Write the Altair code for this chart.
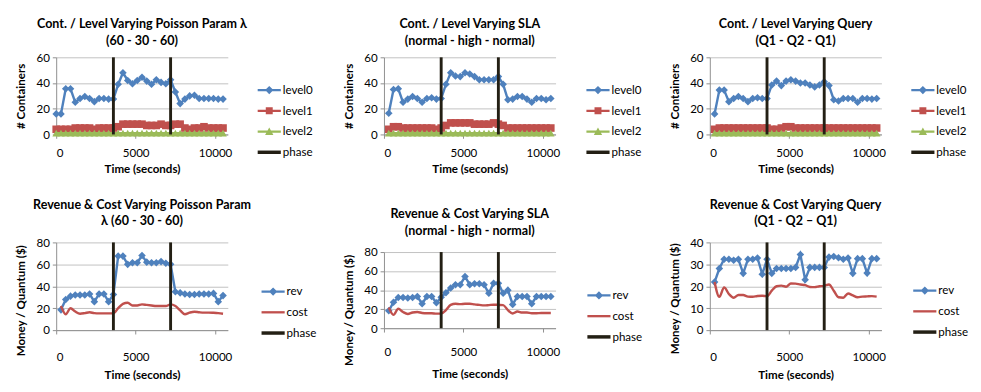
import altair as alt
import pandas as pd

FONT = "Lato"
BLUE = "#4F81BD"
RED = "#C0504D"
GREEN = "#9BBB59"
PHASE_C = "#231F14"
GRID = "#BFBFBF"
AXIS_C = "#8C8C8C"

X_TICKS = [0, 5000, 10000]
Y_TICKS_60 = [0, 20, 40, 60]
Y_TICKS_80 = [0, 20, 40, 60, 80]
Y_TICKS_40 = [0, 10, 20, 30, 40]
PHASES = [3600, 7200]

T36 = [0, 300, 600, 900, 1200, 1500, 1800, 2100, 2400, 2700, 3000, 3300, 3600,
       3900, 4200, 4500, 4800, 5100, 5400, 5700, 6000, 6300, 6600, 6900, 7200,
       7500, 7800, 8100, 8400, 8700, 9000, 9300, 9600, 9900, 10200, 10500]
T35 = [300, 600, 900, 1200, 1500, 1800, 2100, 2400, 2700, 3000, 3300, 3600,
       3900, 4200, 4500, 4800, 5100, 5400, 5700, 6000, 6300, 6600, 6900, 7200,
       7500, 7800, 8100, 8400, 8700, 9000, 9300, 9600, 9900, 10200, 10500]

# Top-left: varying Poisson parameter
POI_L0 = [16, 16, 35.5, 35.5, 25, 28, 29.5, 28, 25.5, 28, 28, 27.5, 27.5, 39, 48, 42,
          39.5, 42, 44.5, 41.5, 39, 42.5, 40.5, 39.5, 42.5, 33, 24, 27.5, 30, 30.5,
          28, 28, 28, 28, 27.5, 27.5]
POI_L1 = [4, 4, 4, 4, 5, 5, 5, 5, 4, 5, 5, 5, 5, 6, 8, 8, 8, 8, 8, 7, 7, 7, 8, 7, 7, 8,
          8, 5, 4, 5, 5, 6, 5, 5, 5, 5]
POI_L2 = [1, 1, 1, 1, 1, 1, 1, 1, 1, 1, 1, 1, 1, 1, 1, 1, 1, 1, 1, 1, 1, 1, 1, 1, 1, 1,
          1, 1, 1, 1, 1, 1, 1, 1, 1, 1]

# Top-middle: varying SLA
SLA_L0 = [16.5, 35, 35.5, 25, 27.5, 29.5, 28, 25, 28, 28.5, 27.5, 28, 39, 48, 45.5, 45,
          48, 47, 45, 42.5, 42.5, 42.5, 42.5, 45, 39, 27, 27.5, 29.5, 29.5, 27.5, 25,
          28, 28, 27, 28]
SLA_L1 = [4, 6, 6, 5, 5, 5, 5, 5, 5, 5, 4, 5, 7, 9, 9, 9, 9, 9, 8, 8, 8, 8, 9, 8, 7, 5,
          5, 5, 5, 5, 5, 5, 5, 5, 5]
SLA_L2 = [1, 1, 1, 1, 1, 1, 1, 1, 1, 1, 1, 1, 1, 1, 1, 1, 1, 1, 1, 1, 1, 1, 1, 1, 1, 1,
          1, 1, 1, 1, 1, 1, 1, 1, 1]

# Top-right: varying query
QRY_L0 = [16, 34.5, 34.5, 25.5, 28, 29.5, 28, 25.5, 28, 28.5, 28, 28, 38.5, 41.5, 38,
          41.5, 42.5, 41.5, 40, 40, 38.5, 37, 38.5, 41, 38, 27, 26, 28, 28, 28, 25, 28,
          28, 27.5, 28]
QRY_L1 = [4, 5, 5, 5, 5, 5, 5, 5, 5, 5, 5, 5, 4, 4, 5, 6, 6, 5, 5, 5, 5, 5, 5, 5, 5, 5,
          5, 5, 5, 5, 5, 5, 5, 5, 5]
QRY_L2 = [1, 1, 1, 1, 1, 1, 1, 1, 1, 1, 1, 1, 1, 1, 1, 1, 1, 1, 1, 1, 1, 1, 1, 1, 1, 1,
          1, 1, 1, 1, 1, 1, 1, 1, 1]

# Bottom-left: revenue & cost, Poisson
POI_REV = [18.5, 28, 31, 32, 32, 32, 33, 26, 33, 33, 26, 32.5, 67.5, 67.5, 60, 61.5,
           61.5, 68, 62, 61.5, 61.5, 62.5, 61, 60, 35, 34, 33, 32.5, 32.5, 33, 33, 33,
           33.5, 26, 31.5]
POI_COST = [22, 14.5, 20, 17, 15, 15.5, 16.3, 15.5, 15.3, 15.3, 15.3, 15.3, 20, 24, 25,
            22.5, 22.5, 23.5, 23, 22.5, 22, 22, 22, 23.5, 22, 18, 14.5, 16, 16.8, 16.3,
            16, 16, 15.8, 15.5, 15]

# Bottom-middle: revenue & cost, SLA
SLA_REV = [18.3, 27.3, 32.3, 32.3, 31.7, 32.3, 33.3, 25.7, 33.3, 33.3, 26.7, 32.5, 37.3,
           42.3, 45.7, 45.7, 54.3, 45.7, 46.7, 46.7, 45.7, 36.7, 47.3, 47.3, 36.7, 40,
           25, 33.3, 33.3, 33.3, 25.7, 33.3, 33.3, 33.3, 33.3]
SLA_COST = [21.7, 14, 20.5, 17, 15, 16.5, 17, 16, 15.7, 15.7, 15.3, 15.3, 19, 24.5, 25.7,
            25.3, 25.7, 25.7, 25, 24.5, 24, 24.3, 24.7, 24.5, 24.3, 19, 15.5, 17.5, 16.5,
            16.5, 15.7, 15.7, 16, 16, 16]

# Bottom-right: revenue & cost, query
QRY_REV = [21.9, 28.1, 32.3, 32.3, 31.9, 32.3, 25.9, 32.3, 32.3, 32.9, 25.5, 32.3, 25.9,
           28.1, 28.1, 28.1, 28.1, 28.6, 34.5, 23, 28.6, 28.6, 28.6, 28.6, 33.3, 33.6,
           33, 32.3, 32.9, 25.9, 32.6, 32.6, 26, 32.6, 32.6]
QRY_COST = [22, 15.2, 19.5, 16.5, 14.8, 16, 16, 15.3, 15.2, 15.6, 15.7, 15.5, 18, 20,
            20.3, 19.8, 21.3, 21.2, 20.8, 20.5, 19.7, 19.6, 20, 20.2, 20.8, 18, 15,
            14.8, 16.7, 15.8, 15, 15.3, 15.4, 15.5, 15.3]

# legend symbols: a line segment with the series marker
P_DIAMOND = "M-1,-0.1H1V0.1H-1Z M-0.36,0L0,-0.36L0.36,0L0,0.36Z"
P_SQUARE = "M-1,-0.1H1V0.1H-1Z M-0.3,-0.3H0.3V0.3H-0.3Z"
P_TRI = "M-1,-0.1H1V0.1H-1Z M-0.36,0.3L0,-0.36L0.36,0.3Z"
P_LINE = "M-1,-0.1H1V0.1H-1Z"
P_PHASE = "M-1,-0.15H1V0.15H-1Z"

LEGEND_ANCHOR_T = -1000  # outside the axis domain, clipped away


def panel(title, times, series, y_title, y_max, y_ticks, height, lx, ly,
          x_lpad, x_tpad, title_offset, y_title_y=None):
    xs = alt.X("t:Q", scale=alt.Scale(domain=[0, 10800], nice=False, zero=False),
               axis=alt.Axis(values=X_TICKS, format="d", title="Time (seconds)",
                             grid=False, labelPadding=x_lpad, titlePadding=x_tpad))
    yaxis = dict(values=y_ticks, title=y_title, grid=True)
    if y_title_y is not None:
        yaxis["titleY"] = y_title_y
    ys = alt.Y("v:Q", scale=alt.Scale(domain=[0, y_max], nice=False),
               axis=alt.Axis(**yaxis))
    layers = []
    names, colors, paths = [], [], []
    for name, vals, color, marker, smooth, path in series:
        df = pd.DataFrame({"t": times, "v": vals})
        layers.append(alt.Chart(df).mark_line(
            color=color, strokeWidth=2.5,
            interpolate="monotone" if smooth else "linear").encode(x=xs, y=ys))
        if marker:
            layers.append(alt.Chart(df).mark_point(
                shape=marker, filled=True, size=62, color=color, opacity=1,
                strokeWidth=0).encode(x=xs, y=ys))
        names.append(name)
        colors.append(color)
        paths.append(path)
    layers.append(alt.Chart(pd.DataFrame({"t": PHASES})).mark_rule(
        color=PHASE_C, strokeWidth=3).encode(x=alt.X("t:Q")))
    names.append("phase")
    colors.append(PHASE_C)
    paths.append(P_PHASE)

    leg = alt.Legend(title=None, orient="none", legendX=lx, legendY=ly,
                     labelFont=FONT, labelFontSize=12, labelColor="black",
                     symbolSize=576, symbolStrokeWidth=0, labelOffset=2,
                     rowPadding=3.5, padding=0)
    leg_df = pd.DataFrame({"t": [LEGEND_ANCHOR_T] * len(names),
                           "v": [0] * len(names), "s": names})
    layers.append(alt.Chart(leg_df).mark_point(filled=True, clip=True, opacity=1).encode(
        x=xs, y=ys,
        color=alt.Color("s:N", scale=alt.Scale(domain=names, range=colors), legend=leg),
        shape=alt.Shape("s:N", scale=alt.Scale(domain=names, range=paths), legend=leg)))

    return alt.layer(*layers).properties(
        width=178, height=height,
        title=alt.TitleParams(text=title, font=FONT, fontSize=13, fontWeight="bold",
                              color="black", lineHeight=17, offset=title_offset,
                              anchor="middle"))


def levels(l0, l1, l2):
    return [("level0", l0, BLUE, "diamond", False, P_DIAMOND),
            ("level1", l1, RED, "square", False, P_SQUARE),
            ("level2", l2, GREEN, "triangle-up", False, P_TRI)]


def money(rev, cost):
    return [("rev", rev, BLUE, "diamond", False, P_DIAMOND),
            ("cost", cost, RED, None, True, P_LINE)]


tl = panel(["Cont. / Level Varying Poisson Param λ", "(60 - 30 - 60)"], T36,
           levels(POI_L0, POI_L1, POI_L2), "# Containers", 60, Y_TICKS_60, 80,
           209, 22, 10, 5, 4)
tm = panel(["Cont. / Level Varying SLA", "(normal - high - normal)"], T35,
           levels(SLA_L0, SLA_L1, SLA_L2), "# Containers", 60, Y_TICKS_60, 80,
           210, 22, 10, 5, 4)
tr = panel(["Cont. / Level Varying Query", "(Q1 - Q2 - Q1)"], T35,
           levels(QRY_L0, QRY_L1, QRY_L2), "# Containers", 60, Y_TICKS_60, 80,
           209, 22, 10, 5, 4)
bl = panel(["Revenue & Cost Varying Poisson Param", "λ (60 - 30 - 60)"], T35,
           money(POI_REV, POI_COST), "Money / Quantum ($)", 80, Y_TICKS_80, 91,
           213, 39, 19, 7, 9, 60)
bm = panel(["Revenue & Cost Varying SLA", "(normal - high - normal)"], T35,
           money(SLA_REV, SLA_COST), "Money / Quantum ($)", 80, Y_TICKS_80, 79,
           211, 33, 15, 12, 9, 60)
br = panel(["Revenue & Cost Varying Query", "(Q1 - Q2 – Q1)"], T35,
           money(QRY_REV, QRY_COST), "Money / Quantum ($)", 40, Y_TICKS_40, 91,
           211, 38, 19, 7, 9, 58)


def col(a, b, sp):
    return alt.vconcat(a, b, spacing=sp).resolve_scale(
        color="independent", shape="independent", x="independent", y="independent"
    ).resolve_legend(color="independent", shape="independent")


chart = alt.hconcat(col(tl, bl, 26), col(tm, bm, 36), col(tr, br, 26), spacing=27).resolve_scale(
    color="independent", shape="independent", x="independent", y="independent"
).resolve_legend(color="independent", shape="independent").properties(
    padding={"left": 7, "top": 4, "right": 5, "bottom": 5}
).configure_view(stroke=None).configure_axis(
    domainColor=AXIS_C, tickColor=AXIS_C, tickSize=4, gridColor=GRID,
    labelFont=FONT, labelFontSize=12, labelColor="black",
    titleFont=FONT, titleFontSize=12, titleFontWeight="bold", titleColor="black"
).configure_axisY(labelPadding=3, titlePadding=9)

chart.save("out.html", embed_options={"renderer": "svg", "actions": False})
